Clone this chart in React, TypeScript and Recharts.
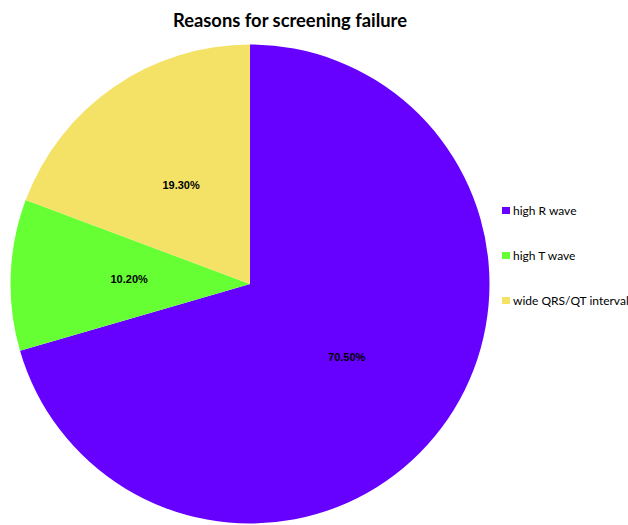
import React from 'react';
import { PieChart, Pie, Cell } from 'recharts';

const categories = ['high R wave', 'high T wave', 'wide QRS/QT interval'];
const values = [70.5, 10.2, 19.3];
const colors = ['#6600FF', '#66FF33', '#F4E266'];
const title = 'Reasons for screening failure';

const data = categories.map((name, i) => ({ name, value: values[i] }));

const RAD = Math.PI / 180;

const renderLabel = (props: any) => {
  const { cx, cy, midAngle, outerRadius, value } = props;
  const r = outerRadius * 0.505;
  const x = cx + r * Math.cos(-midAngle * RAD);
  const y = cy + r * Math.sin(-midAngle * RAD);
  return (
    <text
      x={x}
      y={y}
      textAnchor="middle"
      dominantBaseline="central"
      fontFamily="'Liberation Sans', Arial, sans-serif"
      fontWeight="bold"
      fontSize={11}
      fill="#000"
    >
      {value.toFixed(2)}%
    </text>
  );
};

export default function App() {
  return (
    <div style={{ position: 'absolute', left: 0, top: 0, width: 628, height: 525, background: '#fff' }}>
      <PieChart width={628} height={525} margin={{ top: 0, right: 0, bottom: 0, left: 0 }}>
        <Pie
          data={data}
          dataKey="value"
          nameKey="name"
          cx={250}
          cy={284}
          outerRadius={239.5}
          startAngle={90}
          endAngle={-270}
          stroke="none"
          label={renderLabel}
          labelLine={false}
          isAnimationActive={false}
        >
          {data.map((d, i) => (
            <Cell key={d.name} fill={colors[i]} />
          ))}
        </Pie>
      </PieChart>
      <div
        style={{
          position: 'absolute',
          left: 502,
          top: 188,
          width: 126,
          fontFamily: "Lato, 'Liberation Sans', sans-serif",
          fontSize: 12,
          color: '#000',
        }}
      >
        {categories.map((name, i) => (
          <div key={name} style={{ display: 'flex', alignItems: 'center', height: 45, lineHeight: '14px' }}>
            <div style={{ width: 8, height: 7, background: colors[i], marginRight: 3, flex: 'none' }} />
            <span style={{ whiteSpace: 'nowrap' }}>{name}</span>
          </div>
        ))}
      </div>
      <svg width={628} height={40} style={{ position: 'absolute', left: 0, top: 0 }}>
        <text
          x={290}
          y={27}
          textAnchor="middle"
          fontFamily="Lato, 'Liberation Sans', sans-serif"
          fontWeight="bold"
          fontSize={19}
          textLength={234}
          lengthAdjust="spacingAndGlyphs"
          fill="#000"
        >
          {title}
        </text>
      </svg>
    </div>
  );
}
